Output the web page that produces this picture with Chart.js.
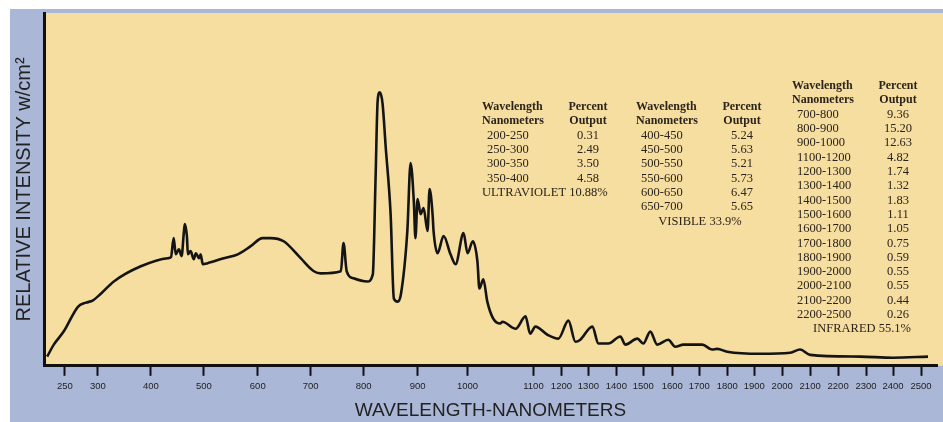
<!DOCTYPE html>
<html>
<head>
<meta charset="utf-8">
<script src="https://cdn.jsdelivr.net/npm/chart.js@4"></script>
<style>
  html, body { margin: 0; padding: 0; background: #fff; }
  #wrap { width: 943px; height: 422px; }
</style>
</head>
<body>
<div id="wrap"><canvas id="grafico" width="943" height="422"></canvas></div>
<script>
// spectrum (nm, relative intensity 0-100)
const wavelengths = [
    223, 233, 248, 270, 282, 292, 306, 330, 381, 432,
    438, 443, 447, 453, 458, 462, 464, 468, 470, 475,
    481, 485, 491, 494, 498, 507, 537, 563, 587, 609,
    624, 649, 681, 706, 719, 757, 762, 768, 781, 807,
    817, 822, 826, 830, 835, 841, 850, 856, 863, 869,
    881, 887, 893, 896, 900, 906, 912, 920, 924, 930,
    932, 940, 952, 966, 976, 992, 1000, 1008, 1015, 1018,
    1024, 1030, 1039, 1050, 1053, 1073, 1088, 1095, 1107, 1150,
    1189, 1226, 1252, 1270, 1314, 1336, 1371, 1415, 1433, 1478,
    1500, 1524, 1548, 1586, 1611, 1641, 1711, 1746, 1764, 1800,
    1921, 2029, 2064, 2100, 2279, 2400, 2525
]
const intensity = [
    2.6, 6.0, 9.7, 16.8, 17.9, 18.5, 20.5, 23.9, 28.2, 30.5,
    30.8, 36.2, 31.6, 33.0, 31.1, 37.3, 40.2, 36.8, 31.6, 32.5,
    30.2, 31.9, 30.5, 31.6, 28.8, 29.1, 30.5, 31.6, 33.9, 36.2,
    36.2, 35.3, 30.5, 26.8, 26.2, 26.8, 34.8, 26.8, 24.8, 23.9,
    25.9, 52.4, 75.2, 77.5, 74.4, 61.8, 43.0, 19.1, 18.2, 20.2,
    38.2, 57.5, 46.7, 36.2, 47.3, 43.0, 44.7, 38.2, 50.1, 43.0,
    38.2, 31.9, 36.8, 31.6, 28.8, 37.6, 31.9, 35.3, 29.6, 21.9,
    24.5, 18.2, 13.4, 12.0, 12.5, 10.5, 14.0, 9.1, 11.1, 8.8,
    7.7, 12.8, 6.8, 7.4, 11.1, 6.3, 6.3, 8.3, 6.0, 7.7,
    6.3, 9.7, 6.0, 7.4, 5.4, 6.0, 6.0, 4.6, 4.8, 4.0,
    3.4, 3.7, 4.6, 3.1, 2.6, 2.3, 2.6
]

// the x axis of the original is hand drawn and not uniform:
// scale units of each tick
const tickWavelengths = [250, 300, 400, 500, 600, 700, 800, 900, 1000, 1100, 1200, 1300,
    1400, 1500, 1600, 1700, 1800, 1900, 2000, 2100, 2200, 2300, 2400, 2500]
const tickScale = [0, 33, 86, 139, 193, 246, 299, 353, 403, 469, 497, 524,
    552, 579, 608, 635, 663, 690, 718, 746, 774, 802, 829, 857]

// tables printed inside the chart
const uvRanges = ['200-250', '250-300', '300-350', '350-400']
const uvPercent = ['0.31', '2.49', '3.50', '4.58']
const uvTotal = 'ULTRAVIOLET 10.88%'

const visRanges = ['400-450', '450-500', '500-550', '550-600', '600-650', '650-700']
const visPercent = ['5.24', '5.63', '5.21', '5.73', '6.47', '5.65']
const visTotal = 'VISIBLE 33.9%'

const irRanges = ['700-800', '800-900', '900-1000', '1100-1200', '1200-1300', '1300-1400',
    '1400-1500', '1500-1600', '1600-1700', '1700-1800', '1800-1900', '1900-2000',
    '2000-2100', '2100-2200', '2200-2500']
const irPercent = ['9.36', '15.20', '12.63', '4.82', '1.74', '1.32', '1.83', '1.11',
    '1.05', '0.75', '0.59', '0.55', '0.55', '0.44', '0.26']
const irTotal = 'INFRARED 55.1%'

function escala(wl) {
    const n = tickWavelengths.length
    let i = 0
    if (wl >= tickWavelengths[n - 1]) i = n - 2
    else if (wl > tickWavelengths[0]) {
        while (wl > tickWavelengths[i + 1]) i++
    }
    const w0 = tickWavelengths[i], w1 = tickWavelengths[i + 1]
    const s0 = tickScale[i], s1 = tickScale[i + 1]
    return s0 + (wl - w0) * (s1 - s0) / (w1 - w0)
}

const pontos = wavelengths.map((wl, i) => ({ x: escala(wl), y: intensity[i] }))

const fundo = {
    id: 'fundo',
    beforeDraw(chart) {
        const { ctx, chartArea } = chart
        ctx.save()
        ctx.fillStyle = '#ffffff'
        ctx.fillRect(0, 0, chart.width, chart.height)
        ctx.fillStyle = '#aab7d6'
        ctx.fillRect(10, 9, chart.width - 10, chart.height - 9)
        ctx.fillStyle = '#f6dda0'
        ctx.fillRect(chartArea.left, chartArea.top, chartArea.right - chartArea.left + 6, chartArea.bottom - chartArea.top)
        ctx.restore()
    }
}

const LH = 14.3

function desenhaTabela(ctx, x, y, pctX, faixas, pct, total, totalX, totalAlign) {
    ctx.font = 'bold 12px "Liberation Serif"'
    ctx.textAlign = 'left'
    ctx.fillText('Wavelength', x, y)
    ctx.fillText('Nanometers', x, y + LH)
    ctx.textAlign = 'center'
    ctx.fillText('Percent', pctX, y)
    ctx.fillText('Output', pctX, y + LH)

    ctx.font = '12.5px "Liberation Serif"'
    faixas.forEach((f, i) => {
        const yy = y + (i + 2) * LH
        ctx.textAlign = 'left'
        ctx.fillText(f, x + 5, yy)
        ctx.textAlign = 'center'
        ctx.fillText(pct[i], pctX, yy)
    })
    ctx.textAlign = totalAlign
    ctx.fillText(total, totalX, y + (faixas.length + 2) * LH)
}

const tabelas = {
    id: 'tabelas',
    afterDatasetsDraw(chart) {
        const ctx = chart.ctx
        ctx.save()
        ctx.fillStyle = '#2b241c'
        ctx.textBaseline = 'middle'
        desenhaTabela(ctx, 482, 107, 588, uvRanges, uvPercent, uvTotal, 482, 'left')
        desenhaTabela(ctx, 636, 107, 742, visRanges, visPercent, visTotal, 700, 'center')
        desenhaTabela(ctx, 792, 86, 898, irRanges, irPercent, irTotal, 862, 'center')
        ctx.restore()
    }
}

new Chart(document.getElementById('grafico'), {
    type: 'line',
    data: {
        datasets: [{
            data: pontos,
            borderColor: '#141414',
            borderWidth: 2.6,
            pointRadius: 0,
            fill: false,
            cubicInterpolationMode: 'monotone'
        }]
    },
    options: {
        responsive: false,
        animation: false,
        layout: { padding: { top: 13, right: 6, left: 0, bottom: 0 } },
        plugins: { legend: { display: false }, tooltip: { enabled: false } },
        scales: {
            x: {
                type: 'linear',
                min: -21,
                max: 873,
                afterBuildTicks: axis => {
                    axis.ticks = tickScale.map(v => ({ value: v }))
                },
                ticks: {
                    autoSkip: false,
                    maxRotation: 0,
                    padding: 5,
                    color: '#222',
                    font: { family: '"Liberation Sans"', size: 9.5 },
                    callback: (v, i) => String(tickWavelengths[i])
                },
                grid: {
                    drawOnChartArea: false,
                    drawTicks: true,
                    tickLength: 10,
                    tickWidth: 2,
                    tickColor: '#111'
                },
                border: { display: true, color: '#111', width: 3 },
                title: {
                    display: true,
                    text: 'WAVELENGTH-NANOMETERS',
                    color: '#222',
                    font: { family: '"Liberation Sans"', size: 19 },
                    padding: { top: 2, bottom: 0 }
                }
            },
            y: {
                min: 0,
                max: 100,
                ticks: { display: false },
                grid: { display: false },
                border: { display: true, color: '#111', width: 3 },
                title: {
                    display: true,
                    text: 'RELATIVE INTENSITY w/cm²',
                    color: '#222',
                    font: { family: '"Liberation Sans"', size: 20 },
                    padding: { top: 12, bottom: 0 }
                }
            }
        }
    },
    plugins: [fundo, tabelas]
})
</script>
</body>
</html>
